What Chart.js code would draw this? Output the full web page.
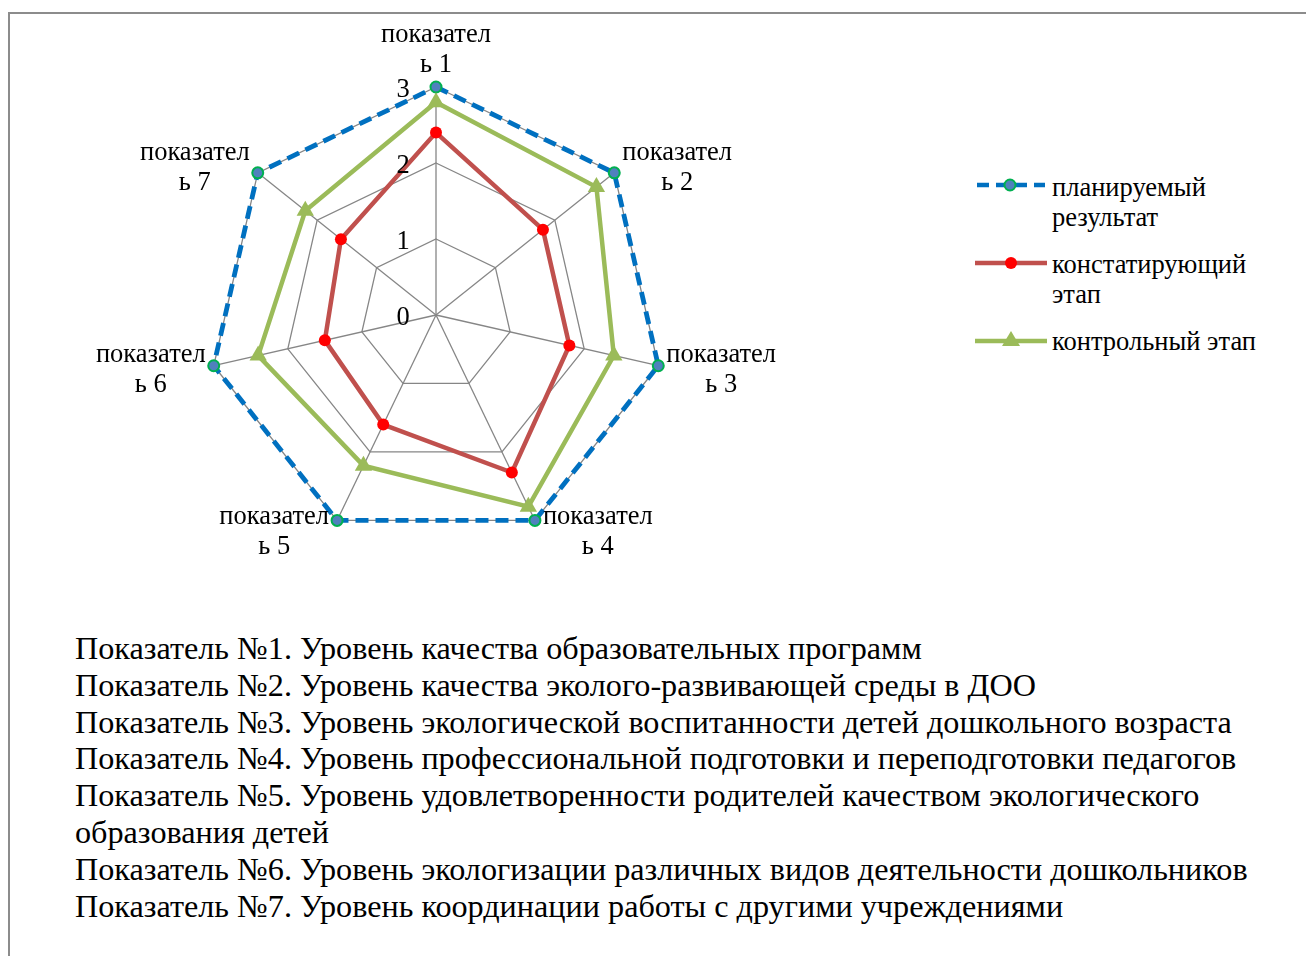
<!DOCTYPE html>
<html lang="ru">
<head>
<meta charset="utf-8">
<title>Показатели</title>
<script src="https://cdn.jsdelivr.net/npm/chart.js@4.4.0/dist/chart.umd.min.js"></script>
<style>
    html, body { margin: 0; padding: 0; background: #fff; }
    body { width: 1306px; height: 956px; position: relative; overflow: hidden;
           font-family: 'Liberation Serif', 'Times New Roman', serif; color: #000; }
    .frame { position: absolute; left: 8px; top: 12px; width: 1300px; height: 960px;
             border-top: 2px solid #8c8c8c; border-left: 2px solid #8c8c8c; }
    #chart-box { position: absolute; left: 0; top: 0; width: 960px; height: 600px; }
    .legend { position: absolute; left: 975px; top: 172px; font-size: 26.5px; line-height: 30px; }
    .legend-item { display: flex; align-items: flex-start; margin-bottom: 17px; white-space: nowrap; }
    .legend-item svg { flex: none; width: 72px; height: 30px; margin-right: 5px; }
    .notes { position: absolute; left: 75px; top: 630px; font-size: 32.2px; line-height: 36.8px;
             white-space: nowrap; }
</style>
</head>
<body>
<div class="frame"></div>
<div id="chart-box"><canvas id="radar"></canvas></div>

<div class="legend">
    <div class="legend-item">
        <svg viewBox="0 0 72 30"><line x1="2" y1="13" x2="70" y2="13" stroke="#0070c0" stroke-width="4.5" stroke-dasharray="12 7"/><circle cx="35" cy="13" r="5.5" fill="#4f81bd" stroke="#00b050" stroke-width="2"/></svg>
        <span>планируемый<br>результат</span>
    </div>
    <div class="legend-item">
        <svg viewBox="0 0 72 30"><line x1="0" y1="14" x2="72" y2="14" stroke="#c0504d" stroke-width="4.5"/><circle cx="36" cy="14" r="6" fill="#ff0000"/></svg>
        <span>констатирующий<br>этап</span>
    </div>
    <div class="legend-item">
        <svg viewBox="0 0 72 30"><line x1="0" y1="15" x2="72" y2="15" stroke="#9bbb59" stroke-width="4.5"/><polygon points="36,5 45,20 27,20" fill="#9bbb59"/></svg>
        <span>контрольный этап</span>
    </div>
</div>

<div class="notes">
    Показатель №1. Уровень качества образовательных программ<br>
    Показатель №2. Уровень качества эколого-развивающей среды в ДОО<br>
    Показатель №3. Уровень экологической воспитанности детей дошкольного возраста<br>
    Показатель №4. Уровень профессиональной подготовки и переподготовки педагогов<br>
    Показатель №5. Уровень удовлетворенности родителей качеством экологического<br>
    образования детей<br>
    Показатель №6. Уровень экологизации различных видов деятельности дошкольников<br>
    Показатель №7. Уровень координации работы с другими учреждениями
</div>

<script>
// подписи осей (с переносом, как на исходной диаграмме)
const categories = [
    ['показател', 'ь 1'],
    ['показател', 'ь 2'],
    ['показател', 'ь 3'],
    ['показател', 'ь 4'],
    ['показател', 'ь 5'],
    ['показател', 'ь 6'],
    ['показател', 'ь 7']
];
const plannedValues = [3, 3, 3, 3, 3, 3, 3];
const statingValues = [2.4, 1.8, 1.8, 2.3, 1.6, 1.5, 1.6];
const controlValues = [2.8, 2.7, 2.4, 2.8, 2.2, 2.4, 2.2];
const tickValues = [0, 1, 2, 3];

const labelFont = "26.5px 'Liberation Serif', 'Times New Roman', serif";

// подписи шкалы слева от вертикальной оси и подписи показателей
const customLabels = {
    id: 'customLabels',
    afterDraw(chart) {
        const r = chart.scales.r;
        const ctx = chart.ctx;
        ctx.save();
        ctx.font = labelFont;
        ctx.fillStyle = '#000';
        ctx.textBaseline = 'middle';
        ctx.textAlign = 'center';
        tickValues.forEach(v => {
            const d = r.getDistanceFromCenterForValue(v);
            ctx.fillText(String(v), r.xCenter - 33, r.yCenter - d + 3);
        });

        const lineH = 30;
        categories.forEach((lines, i) => {
            const p = r.getPointPosition(i, r.drawingArea);
            const angle = (Math.PI * 2 / categories.length) * i;
            const s = Math.sin(angle), c = Math.cos(angle);
            const w = Math.max(...lines.map(t => ctx.measureText(t).width));
            const h = lines.length * lineH;
            let cx, cy;
            if (Math.abs(s) < 0.1) {
                cx = p.x;
                cy = p.y - h / 2 - 7;
            } else {
                cx = p.x + Math.sign(s) * (w / 2 + 8);
                cy = p.y - c * 11 + 2;
            }
            lines.forEach((t, k) => {
                ctx.fillText(t, cx, cy - h / 2 + lineH * (k + 0.5));
            });
        });
        ctx.restore();
    }
};

new Chart(document.getElementById('radar').getContext('2d'), {
    type: 'radar',
    data: {
        labels: categories,
        datasets: [
            {
                label: 'планируемый результат',
                data: plannedValues,
                borderColor: '#0070c0',
                borderWidth: 4.8,
                borderDash: [13, 7],
                backgroundColor: 'transparent',
                fill: false,
                pointStyle: 'circle',
                pointRadius: 5.5,
                pointBackgroundColor: '#4f81bd',
                pointBorderColor: '#00b050',
                pointBorderWidth: 2,
                order: 2
            },
            {
                label: 'констатирующий этап',
                data: statingValues,
                borderColor: '#c0504d',
                borderWidth: 4.5,
                backgroundColor: 'transparent',
                fill: false,
                pointStyle: 'circle',
                pointRadius: 6,
                pointBackgroundColor: '#ff0000',
                pointBorderColor: '#ff0000',
                pointBorderWidth: 0,
                order: 1
            },
            {
                label: 'контрольный этап',
                data: controlValues,
                borderColor: '#9bbb59',
                borderWidth: 4.5,
                backgroundColor: 'transparent',
                fill: false,
                pointStyle: 'triangle',
                pointRadius: 10,
                pointBackgroundColor: '#9bbb59',
                pointBorderColor: '#9bbb59',
                pointBorderWidth: 0,
                order: 0
            }
        ]
    },
    options: {
        responsive: true,
        maintainAspectRatio: false,
        animation: false,
        layout: { padding: { left: 208, top: 87, right: 296, bottom: 57 } },
        elements: { line: { tension: 0 } },
        scales: {
            r: {
                min: 0,
                max: 3,
                ticks: { display: false, stepSize: 1 },
                grid: { color: '#868686', lineWidth: 1.3 },
                angleLines: { display: true, color: '#868686', lineWidth: 1.3 },
                pointLabels: { display: false }
            }
        },
        plugins: {
            legend: { display: false },
            tooltip: { enabled: false }
        }
    },
    plugins: [customLabels]
});
</script>
</body>
</html>
